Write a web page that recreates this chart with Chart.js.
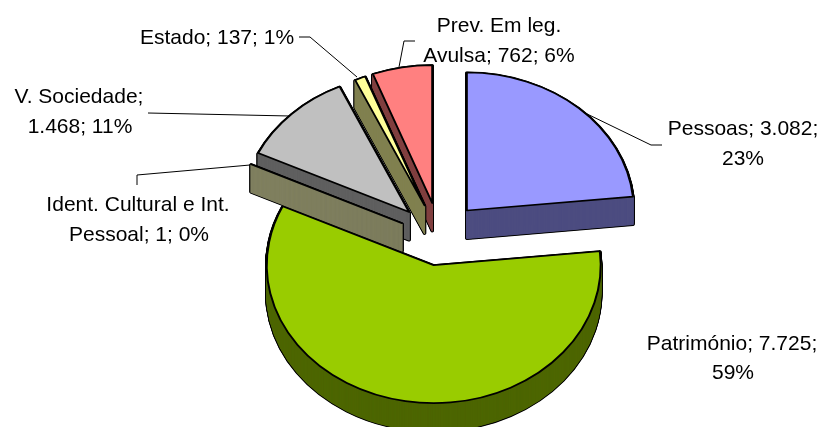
<!DOCTYPE html>
<html>
<head>
<meta charset="utf-8">
<style>
  html, body { margin:0; padding:0; background:#fff; }
  canvas { display:block; }
</style>
<script src="https://cdn.jsdelivr.net/npm/chart.js@4/dist/chart.umd.min.js"></script>
</head>
<body>
<canvas id="pie" width="822" height="427"></canvas>
<script>
/* data */
const categories = ['Pessoas', 'Património', 'Ident. Cultural e Int. Pessoal', 'V. Sociedade', 'Estado', 'Prev. Em leg. Avulsa'];
const values = [3082, 7725, 1, 1468, 137, 762];
const faceColors = ['#9999FF', '#99CC00', '#FFFFC0', '#C0C0C0', '#FFFF99', '#FF8080'];
const wallColors = ['#4D4D80', '#4D6600', '#808060', '#606060', '#808050', '#804040'];
const explosion = [40, 37, 42, 44, 40, 43];   // how far each slice is pulled out
const nudgeY = [0, 0, 3, 3, 1, 3];            // small fix-ups, the tilt is not quite even in the original
const drawOrder = [1, 5, 4, 3, 2, 0];         // back to front

/* label lines + leader lines: [text, centre x, baseline y] */
const labels = [
  ['Pessoas; 3.082;', 743, 135], ['23%', 743, 165],
  ['Património; 7.725;', 732, 350], ['59%', 733, 379],
  ['Ident. Cultural e Int.', 138, 211], ['Pessoal; 1; 0%', 139, 241],
  ['V. Sociedade;', 79, 103], ['1.468; 11%', 80, 133],
  ['Estado; 137; 1%', 217, 44],
  ['Prev. Em leg.', 499, 32], ['Avulsa; 762; 6%', 499, 62]
];
const leaders = [
  [[583, 112], [651, 145], [662, 145]],
  [[137, 185], [137, 175], [250, 165]],
  [[148, 113], [290, 116]],
  [[299, 37], [310, 37], [357, 77]],
  [[415, 41], [404, 41], [399, 67]]
];

const TILT = 138 / 167;   // squash of the pie, fake 3D
const DEPTH = 28;
const CENTER_Y = 235;

function drawSlice(ctx, arc, i, dy, fill, stroke, width){
  const mid = (arc.startAngle + arc.endAngle) / 2;
  const dx = Math.cos(mid) * explosion[i];
  const ey = Math.sin(mid) * explosion[i];
  const o = arc.options;
  arc.options = Object.assign({}, o, {backgroundColor: fill, borderColor: stroke, borderWidth: width, borderJoinStyle: 'round', offset: 0});
  ctx.save();
  ctx.translate(dx, CENTER_Y + nudgeY[i] + dy + ey * TILT);
  ctx.scale(1, TILT);
  ctx.translate(0, -arc.y);
  arc.draw(ctx);
  ctx.restore();
  arc.options = o;
}

const pie3d = {
  id: 'pie3d',
  beforeDatasetsDraw(chart){
    const ctx = chart.ctx;
    const arcs = chart.getDatasetMeta(0).data;
    drawOrder.forEach(i => {
      const arc = arcs[i];
      // wall: black pass gives the outline, coloured pass fills it in
      for (let d = DEPTH; d > 0; d -= 0.5) drawSlice(ctx, arc, i, d, '#000', '#000', 3.4);
      for (let d = DEPTH; d > 0; d -= 0.5) drawSlice(ctx, arc, i, d, wallColors[i], wallColors[i], 1.2);
      drawSlice(ctx, arc, i, 0, faceColors[i], '#000', 2);
    });
    return false;
  },
  afterDraw(chart){
    const ctx = chart.ctx;
    ctx.save();
    ctx.strokeStyle = '#000'; ctx.lineWidth = 1;
    leaders.forEach(pts => {
      ctx.beginPath();
      pts.forEach((p, k) => k ? ctx.lineTo(p[0], p[1]) : ctx.moveTo(p[0], p[1]));
      ctx.stroke();
    });
    ctx.fillStyle = '#000';
    ctx.font = '21px "Liberation Sans"';
    ctx.textAlign = 'center';
    ctx.textBaseline = 'alphabetic';
    labels.forEach(l => ctx.fillText(l[0], l[1], l[2]));
    ctx.restore();
  }
};

new Chart(document.getElementById('pie'), {
  type: 'pie',
  data: {
    labels: categories,
    datasets: [{ data: values, backgroundColor: faceColors, borderColor: '#000', borderWidth: 2 }]
  },
  options: {
    responsive: false,
    animation: false,
    layout: { padding: { left: 272, right: 214, top: 45, bottom: 46 } },
    plugins: { legend: { display: false }, tooltip: { enabled: false } }
  },
  plugins: [pie3d]
});
</script>
</body>
</html>
